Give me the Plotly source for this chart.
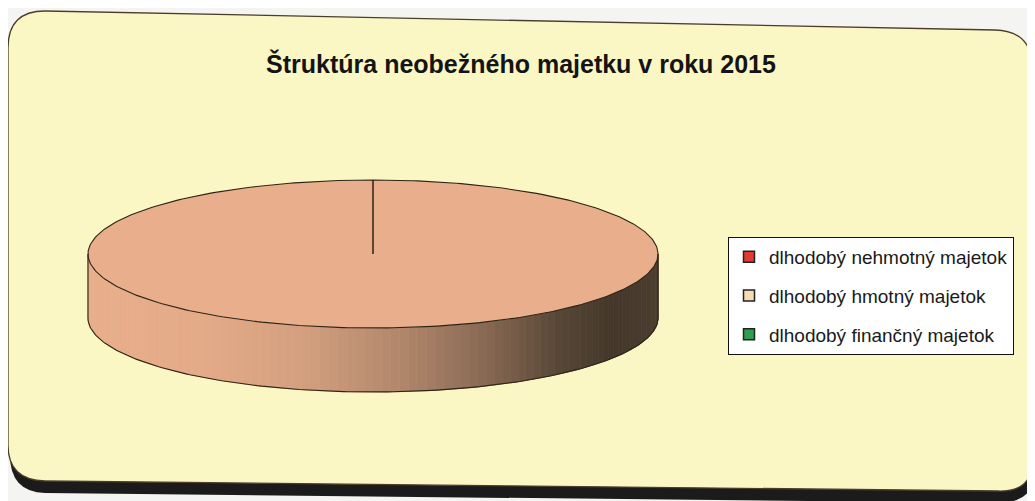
import numpy as np
import plotly.graph_objects as go

# ---------------- data ----------------
title_text = "Štruktúra neobežného majetku v roku 2015"
categories = ["dlhodobý nehmotný majetok", "dlhodobý hmotný majetok", "dlhodobý finančný majetok"]
values = [0.0, 100.0, 0.0]
slice_colors = ["#e03a33", "#e9af8c", "#2f9e4f"]
legend_colors = ["#e03a33", "#f6dcb4", "#2f9e4f"]

# ---------------- geometry / style ----------------
W, H = 1035, 501
OFF = 8  # page body margin compensation
cx, cy, ra, rb, depth = 373, 254, 285, 74, 64
dark = np.array([62, 52, 40])


def hex2rgb(h):
    h = h.lstrip("#")
    return np.array([int(h[i:i + 2], 16) for i in (0, 2, 4)])


def pt(theta_deg, dy=0.0):
    t = np.radians(theta_deg)
    return cx + ra * np.sin(t), cy - rb * np.cos(t) + dy


shade_x = [cx - ra, 200, 300, 400, 480, 560, 610, cx + ra]
shade_t = [0.0, 0.03, 0.12, 0.32, 0.55, 0.85, 0.96, 0.92]

fig = go.Figure()

total = sum(values)
bounds = np.concatenate([[0.0], np.cumsum(values) / total * 360.0])


def slice_at(theta):
    th = theta % 360
    for i in range(len(values)):
        if values[i] > 0 and bounds[i] <= th <= bounds[i + 1]:
            return i
    return int(np.argmax(values))


# side (front half: theta 90..270), shaded strips
n = 100
thetas = np.linspace(90, 270, n + 1)
for k in range(n):
    t0, t1 = thetas[k], thetas[k + 1]
    arc = np.linspace(t0, t1, 4)
    xs_top, ys_top = pt(arc)
    xs_bot, ys_bot = pt(arc[::-1], depth)
    xm = (xs_top[0] + xs_top[-1]) / 2
    s = float(np.interp(xm, shade_x, shade_t))
    base = hex2rgb(slice_colors[slice_at((t0 + t1) / 2)])
    c = (base * (1 - s) + dark * s).astype(int)
    col = "rgb(%d,%d,%d)" % tuple(c)
    fig.add_trace(go.Scatter(
        x=list(xs_top) + list(xs_bot) + [xs_top[0]],
        y=list(ys_top) + list(ys_bot) + [ys_top[0]],
        mode="lines", fill="toself", fillcolor=col,
        line=dict(color=col, width=0.8), hoverinfo="skip", showlegend=False))

# top faces of slices
for i, v in enumerate(values):
    if v <= 0:
        continue
    arc = np.linspace(bounds[i], bounds[i + 1], 240)
    xs, ys = pt(arc)
    fig.add_trace(go.Scatter(
        x=[cx] + list(xs) + [cx], y=[cy] + list(ys) + [cy],
        mode="lines", fill="toself", fillcolor=slice_colors[i],
        line=dict(width=0, color=slice_colors[i]), hoverinfo="skip", showlegend=False))

# outlines
edge = dict(color="#2e2418", width=1.1)
arc = np.linspace(0, 360, 361)
xs, ys = pt(arc)
fig.add_trace(go.Scatter(x=xs, y=ys, mode="lines", line=edge, hoverinfo="skip", showlegend=False))
arc = np.linspace(90, 270, 181)
xs, ys = pt(arc, depth)
fig.add_trace(go.Scatter(x=xs, y=ys, mode="lines", line=edge, hoverinfo="skip", showlegend=False))
for th in (90, 270):
    x0, y0 = pt(th)
    x1, y1 = pt(th, depth)
    fig.add_trace(go.Scatter(x=[x0, x1], y=[y0, y1], mode="lines", line=edge,
                             hoverinfo="skip", showlegend=False))
# radial slice boundary lines
drawn = set()
for i, v in enumerate(values):
    if v <= 0:
        continue
    for th in (bounds[i], bounds[i + 1]):
        key = round(th % 360, 6)
        if key in drawn:
            continue
        drawn.add(key)
        x1, y1 = pt(th)
        fig.add_trace(go.Scatter(x=[cx, x1], y=[cy, y1], mode="lines",
                                 line=dict(color="#21170f", width=1.4),
                                 hoverinfo="skip", showlegend=False))

# legend entries
for cat, col in zip(categories, legend_colors):
    fig.add_trace(go.Scatter(
        x=[-500], y=[-500], mode="markers", name=cat, legendgroup=cat,
        marker=dict(symbol="square", size=11, color=col, line=dict(color="#222", width=1.5))))

card = ("M 8,48 Q 8,11 45,11 L 995,30 Q 1031,31 1032,65 L 1032,462 "
        "Q 1032,492 998,491 L 45,481 Q 8,480 8,445 Z")
shadow = ("M 10,60 L 10,455 Q 10,492 45,493 L 998,503 Q 1035,503 1035,470 L 1035,80 Z")

fig.update_layout(
    width=W, height=H,
    margin=dict(l=0, r=0, t=0, b=0),
    paper_bgcolor="#f4f4f2",
    plot_bgcolor="rgba(0,0,0,0)",
    xaxis=dict(range=[OFF, W + OFF], visible=False, fixedrange=True),
    yaxis=dict(range=[H + OFF, OFF], visible=False, fixedrange=True),
    shapes=[
        dict(type="path", path=shadow, xref="x", yref="y", layer="below",
             fillcolor="#1b1b1b", line=dict(width=0)),
        dict(type="path", path=card, xref="x", yref="y", layer="below",
             fillcolor="#faf7c4", line=dict(color="#4a3e2a", width=1.3)),
    ],
    title=dict(text="<b>" + title_text + "</b>", x=(521 - OFF) / W, y=1 - (64 - OFF) / H,
               xanchor="center", yanchor="middle",
               font=dict(family="Liberation Sans, Arial", size=25, color="#141414")),
    legend=dict(x=(728 - OFF) / W, y=1 - (237 - OFF) / H, xanchor="left", yanchor="top",
                bgcolor="#ffffff", bordercolor="#111111", borderwidth=1,
                traceorder="grouped", tracegroupgap=11,
                font=dict(family="Liberation Sans, Arial", size=19, color="#1a1a1a")),
    showlegend=True,
)

fig.write_html("out.html")
